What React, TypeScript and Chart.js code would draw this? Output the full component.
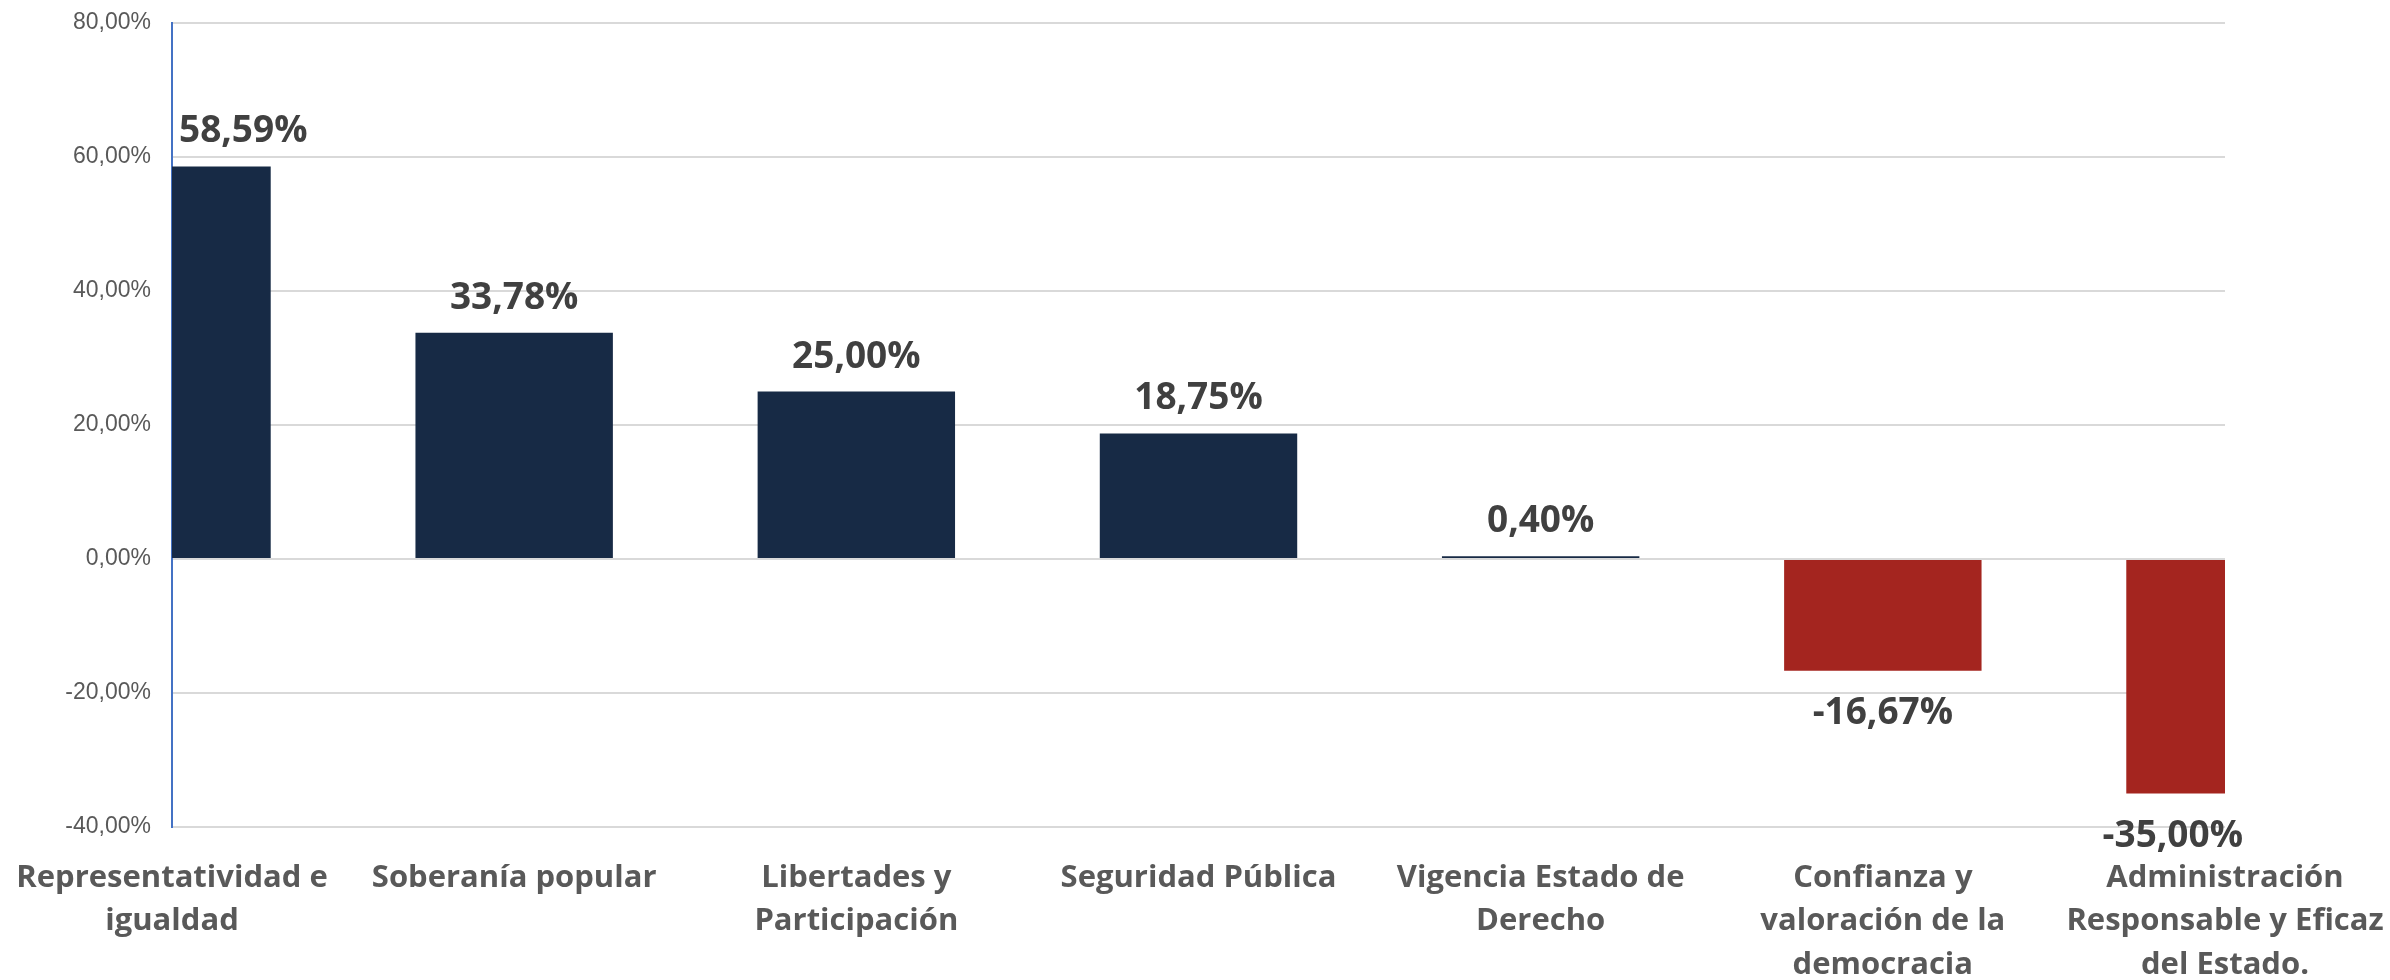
import React, { useEffect, useRef } from "react";
import { Chart, registerables } from "chart.js";

Chart.register(...registerables);

const categories: string[][] = [
  ["Representatividad e", "igualdad"],
  ["Soberanía popular"],
  ["Libertades y", "Participación"],
  ["Seguridad Pública"],
  ["Vigencia Estado de", "Derecho"],
  ["Confianza y", "valoración de la", "democracia"],
  ["Administración", "Responsable y Eficaz", "del Estado."],
];
const values: number[] = [58.59, 33.78, 25.0, 18.75, 0.4, -16.67, -35.0];
const yMin = -40;
const yMax = 80;
const yStep = 20;

const POS_COLOR = "#172a45";
const NEG_COLOR = "#a4251f";

const fmt = (v: number) => v.toFixed(2).replace(".", ",") + "%";

const labelPlugin = {
  id: "barValueLabels",
  afterDatasetsDraw(chart: any) {
    const { ctx, chartArea } = chart;
    const meta = chart.getDatasetMeta(0);
    ctx.save();
    ctx.font = 'bold 37px "Open Sans"';
    ctx.fillStyle = "#404040";
    ctx.textAlign = "center";
    ctx.textBaseline = "alphabetic";
    meta.data.forEach((bar: any, i: number) => {
      const v = values[i];
      const text = fmt(v);
      const w = ctx.measureText(text).width;
      let x = bar.x;
      const minX = chartArea.left + w / 2 + 7;
      const maxX = chartArea.right - w / 2 + 18;
      if (x < minX) x = minX;
      if (x > maxX) x = maxX;
      const y = v >= 0 ? bar.y - 24 : bar.y + 53;
      ctx.fillText(text, x, y);
    });
    ctx.restore();
  },
};

export default function App() {
  const canvasRef = useRef<HTMLCanvasElement | null>(null);

  useEffect(() => {
    document.body.style.margin = "0";
    if (!canvasRef.current) return;
    const chart = new Chart(canvasRef.current, {
      type: "bar",
      data: {
        labels: categories,
        datasets: [
          {
            data: values,
            backgroundColor: values.map((v) => (v >= 0 ? POS_COLOR : NEG_COLOR)),
            borderWidth: 0,
            categoryPercentage: 1,
            barPercentage: 0.577,
            clip: 0,
          } as any,
        ],
      },
      options: {
        animation: false,
        responsive: true,
        maintainAspectRatio: false,
        layout: { padding: { top: 23, right: 165, left: 0, bottom: 0 } },
        plugins: {
          legend: { display: false },
          tooltip: { enabled: false },
        },
        scales: {
          x: {
            type: "category",
            offset: false,
            grid: { display: false, drawTicks: true, tickLength: 30 },
            border: { display: false },
            ticks: {
              autoSkip: false,
              maxRotation: 0,
              minRotation: 0,
              padding: 0,
              color: "#595959",
              font: { family: '"Open Sans"', weight: "bold", size: 31, lineHeight: 1.39 },
            },
            afterFit: (s: any) => {
              s.height = 153;
            },
          },
          y: {
            min: yMin,
            max: yMax,
            grid: {
              color: "#d9d9d9",
              lineWidth: 2,
              drawTicks: true,
              tickLength: 21,
              tickColor: "rgba(0,0,0,0)",
            },
            border: { color: "#4472c4", width: 2 },
            ticks: {
              stepSize: yStep,
              padding: 0,
              color: "#595959",
              font: { family: '"Liberation Sans", Arial', size: 23 },
              callback: (v: any) => fmt(Number(v)),
            },
            afterFit: (s: any) => {
              s.width = 172;
            },
          },
        },
      },
      plugins: [labelPlugin],
    });
    return () => chart.destroy();
  }, []);

  return (
    <div style={{ position: "relative", width: "100%", height: "980px" }}>
      <canvas ref={canvasRef} />
    </div>
  );
}
